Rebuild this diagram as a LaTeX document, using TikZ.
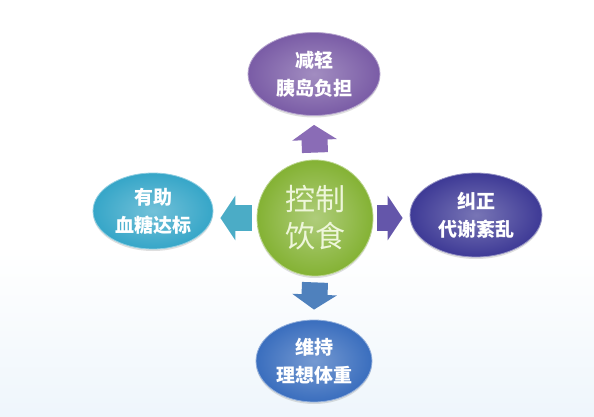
\documentclass[tikz,border=0pt]{standalone}
\usepackage{fontspec}
\setmainfont{Noto Sans CJK SC}
\usetikzlibrary{shapes.geometric,arrows.meta,shadows}
\definecolor{bgblue}{RGB}{218,234,247}
\definecolor{topc}{RGB}{122,92,166}
\definecolor{leftc}{RGB}{54,166,200}
\definecolor{rightc}{RGB}{62,58,150}
\definecolor{botc}{RGB}{58,110,190}
\definecolor{midc}{RGB}{132,178,52}
\definecolor{upa}{RGB}{138,108,182}
\definecolor{lefta}{RGB}{75,172,198}
\definecolor{righta}{RGB}{100,86,170}
\definecolor{downa}{RGB}{79,129,189}
\pgfdeclareverticalshading{bgfade}{100bp}{color(0bp)=(bgblue); color(45bp)=(white); color(100bp)=(white)}
\begin{document}
\begin{tikzpicture}[x=1pt,y=-1pt,
  goal/.style={shape=ellipse,inner sep=0pt,text=white,align=center,
    font=\fontsize{19}{28}\selectfont\bfseries,draw=#1!55!white,line width=0.8pt,
    inner color=#1!70!white,outer color=#1,
    drop shadow={shadow xshift=0pt,shadow yshift=-2pt,opacity=0.25}},
  blockarrow/.style={line width=26pt,draw=#1,-{Triangle[width=44pt,length=15pt]}}]
\useasboundingbox (0,0) rectangle (594,417);
\shade[shading=bgfade] (0,0) rectangle (594,417);
\node[goal=topc,minimum width=132pt,minimum height=83pt](T) at (314,74){减轻\\胰岛负担};
\node[goal=leftc,minimum width=120pt,minimum height=76pt](L) at (153,211){有助\\血糖达标};
\node[goal=rightc,minimum width=132pt,minimum height=84pt](R) at (476,215){纠正\\代谢紊乱};
\node[goal=botc,minimum width=116pt,minimum height=82pt](B) at (314,361){维持\\理想体重};
\node[shape=circle,minimum size=116pt,inner sep=0pt,draw=midc!55!white,line width=0.8pt,
  inner color=midc!65!white,outer color=midc,text={rgb,255:red,238;green,246;blue,218},
  align=center,font=\fontsize{30}{37}\selectfont,
  drop shadow={shadow xshift=0pt,shadow yshift=-2pt,opacity=0.25}](C) at (315,218){控制\\饮食};
\draw[blockarrow=upa] ([yshift=7pt]C.north) -- ([yshift=-9pt]T.south);
\draw[blockarrow=lefta] ([xshift=-5pt]C.west) -- ([xshift=7pt]C.west -| L.east);
\draw[blockarrow=righta] ([xshift=4pt]C.east) -- ([xshift=-7pt]C.east -| R.west);
\draw[blockarrow=downa] ([yshift=-6pt]C.south) -- ([yshift=10pt]B.north);
\end{tikzpicture}
\end{document}
